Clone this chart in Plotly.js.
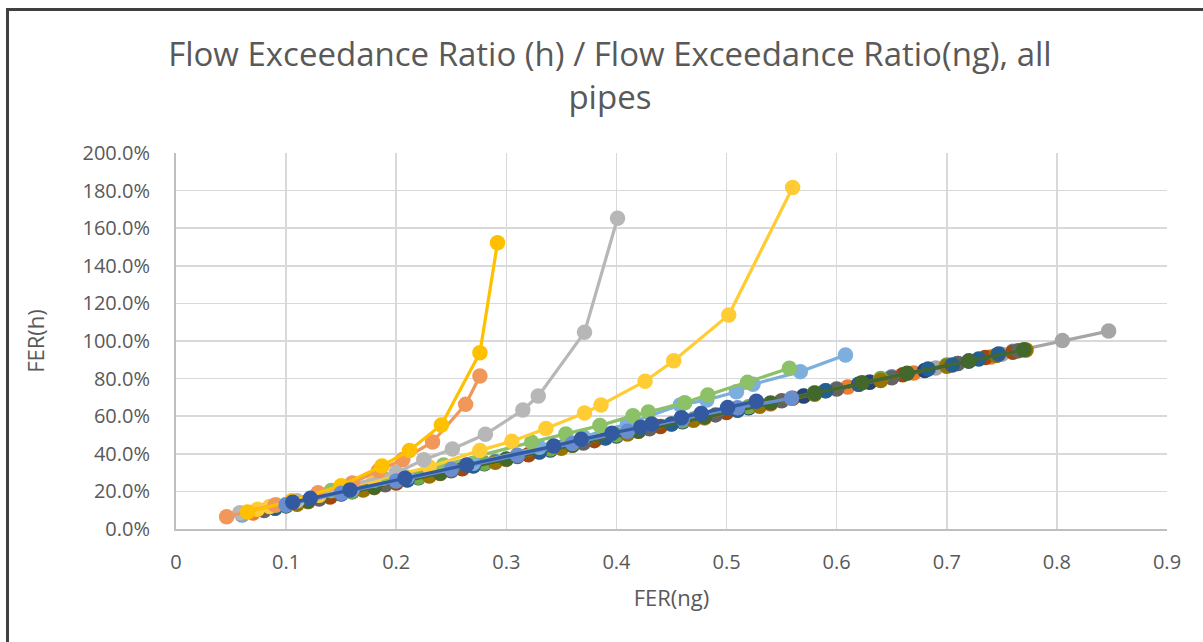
<!DOCTYPE html>
<html>
<head>
<meta charset="utf-8">
<script src="https://cdn.plot.ly/plotly-3.0.1.min.js"></script>
<style>
  html, body { margin: 0; padding: 0; background: #ffffff; overflow: hidden; }
  #chart { position: absolute; left: 0; top: 0; width: 1203px; height: 642px; }
  #frame { position: absolute; left: 6px; top: 8px; width: 1400px; height: 800px;
           border-left: 3px solid #404040; border-top: 3px solid #404040; pointer-events: none; z-index: 10; }
</style>
</head>
<body>
<div id="chart"></div>
<div id="frame"></div>
<script>
// ---- Data (x = FER(ng), y = FER(h) as a fraction) ----
// Dense bundle of pipes along the main trend
const blueAX   = [0.06, 0.11, 0.17, 0.23, 0.29, 0.35, 0.41, 0.47, 0.53, 0.59, 0.65, 0.71, 0.76];
const blueAY   = [0.075, 0.135, 0.21, 0.285, 0.36, 0.435, 0.51, 0.585, 0.66, 0.735, 0.81, 0.88, 0.945];
const orangeAX = [0.07, 0.12, 0.18, 0.24, 0.30, 0.36, 0.42, 0.48, 0.54, 0.61, 0.67, 0.74];
const orangeAY = [0.085, 0.145, 0.22, 0.295, 0.37, 0.445, 0.52, 0.59, 0.665, 0.755, 0.83, 0.915];
const grayLongX = [0.06, 0.10, 0.15, 0.21, 0.27, 0.33, 0.39, 0.45, 0.51, 0.57, 0.63, 0.69, 0.75, 0.805, 0.847];
const grayLongY = [0.078, 0.125, 0.188, 0.262, 0.337, 0.41, 0.485, 0.558, 0.633, 0.707, 0.782, 0.856, 0.93, 1.002, 1.053];
const rustX    = [0.09, 0.14, 0.20, 0.26, 0.32, 0.38, 0.44, 0.50, 0.56, 0.62, 0.66, 0.70, 0.735, 0.76];
const rustY    = [0.11, 0.17, 0.245, 0.32, 0.395, 0.47, 0.545, 0.62, 0.695, 0.77, 0.82, 0.87, 0.912, 0.94];
const darkGrayX = [0.08, 0.13, 0.19, 0.25, 0.31, 0.37, 0.43, 0.49, 0.55, 0.60, 0.65, 0.71, 0.765];
const darkGrayY = [0.098, 0.16, 0.235, 0.31, 0.385, 0.458, 0.533, 0.607, 0.682, 0.745, 0.805, 0.88, 0.948];
const navyX    = [0.10, 0.16, 0.22, 0.28, 0.34, 0.40, 0.46, 0.52, 0.57, 0.63, 0.68, 0.72];
const navyY    = [0.123, 0.198, 0.272, 0.347, 0.42, 0.495, 0.57, 0.645, 0.707, 0.78, 0.843, 0.893];
const greenAX  = [0.10, 0.16, 0.22, 0.28, 0.34, 0.40, 0.46, 0.52, 0.58, 0.64, 0.70];
const greenAY  = [0.127, 0.2, 0.275, 0.35, 0.425, 0.5, 0.575, 0.65, 0.725, 0.8, 0.872];
const oliveX   = [0.11, 0.17, 0.23, 0.29, 0.35, 0.41, 0.47, 0.53, 0.58, 0.64, 0.70, 0.745, 0.772];
const oliveY   = [0.132, 0.208, 0.282, 0.355, 0.43, 0.505, 0.578, 0.653, 0.717, 0.79, 0.866, 0.923, 0.952];
const steelX   = [0.09, 0.15, 0.21, 0.27, 0.33, 0.39, 0.45, 0.51, 0.59, 0.62, 0.683, 0.705, 0.729, 0.747];
const steelY   = [0.112, 0.186, 0.26, 0.335, 0.41, 0.484, 0.558, 0.632, 0.735, 0.77, 0.851, 0.872, 0.904, 0.931];
const forestX  = [0.12, 0.18, 0.24, 0.30, 0.36, 0.42, 0.48, 0.54, 0.58, 0.623, 0.664, 0.72, 0.77];
const forestY  = [0.148, 0.222, 0.297, 0.372, 0.446, 0.52, 0.595, 0.67, 0.722, 0.778, 0.828, 0.893, 0.953];
const midBlueX = [0.10, 0.15, 0.20, 0.25, 0.31, 0.36, 0.41, 0.46, 0.51, 0.559];
const midBlueY = [0.128, 0.19, 0.255, 0.318, 0.392, 0.455, 0.52, 0.585, 0.645, 0.695];
// Pipes that depart from the trend
const lightBlueX  = [0.10, 0.16, 0.21, 0.27, 0.33, 0.37, 0.41, 0.458, 0.482, 0.509, 0.524, 0.567, 0.608];
const lightBlueY  = [0.13, 0.21, 0.275, 0.35, 0.435, 0.49, 0.56, 0.66, 0.686, 0.73, 0.77, 0.837, 0.926];
const lightGreenX = [0.091, 0.141, 0.188, 0.243, 0.323, 0.354, 0.385, 0.415, 0.429, 0.462, 0.483, 0.519, 0.557];
const lightGreenY = [0.128, 0.205, 0.27, 0.34, 0.462, 0.505, 0.55, 0.603, 0.622, 0.672, 0.713, 0.78, 0.855];
const yellowX  = [0.074, 0.085, 0.13, 0.18, 0.23, 0.276, 0.305, 0.336, 0.371, 0.386, 0.426, 0.452, 0.502, 0.560];
const yellowY  = [0.105, 0.12, 0.18, 0.26, 0.33, 0.418, 0.467, 0.535, 0.617, 0.66, 0.786, 0.895, 1.138, 1.817];
const silverX  = [0.058, 0.11, 0.16, 0.20, 0.225, 0.251, 0.281, 0.315, 0.329, 0.371, 0.401];
const silverY  = [0.087, 0.15, 0.235, 0.3, 0.368, 0.425, 0.504, 0.633, 0.707, 1.046, 1.653];
const peachX   = [0.046, 0.09, 0.129, 0.160, 0.184, 0.206, 0.233, 0.263, 0.276];
const peachY   = [0.065, 0.128, 0.193, 0.245, 0.311, 0.37, 0.463, 0.663, 0.814];
const goldX    = [0.065, 0.105, 0.15, 0.187, 0.212, 0.241, 0.276, 0.292];
const goldY    = [0.09, 0.15, 0.23, 0.335, 0.418, 0.553, 0.938, 1.523];
const darkBlueX = [0.106, 0.122, 0.158, 0.208, 0.264, 0.343, 0.368, 0.396, 0.422, 0.432, 0.459, 0.477, 0.501, 0.527];
const darkBlueY = [0.142, 0.163, 0.207, 0.27, 0.34, 0.441, 0.477, 0.509, 0.541, 0.558, 0.592, 0.614, 0.646, 0.68];

const xTickVals = [0, 0.1, 0.2, 0.3, 0.4, 0.5, 0.6, 0.7, 0.8, 0.9];
const xTickText = ["0", "0.1", "0.2", "0.3", "0.4", "0.5", "0.6", "0.7", "0.8", "0.9"];
const yTickVals = [0, 0.2, 0.4, 0.6, 0.8, 1.0, 1.2, 1.4, 1.6, 1.8, 2.0];
const yTickText = ["0.0%", "20.0%", "40.0%", "60.0%", "80.0%", "100.0%", "120.0%", "140.0%", "160.0%", "180.0%", "200.0%"];

const seriesList = [
  [blueAX, blueAY, "#5B9BD5"],
  [orangeAX, orangeAY, "#ED7D31"],
  [grayLongX, grayLongY, "#A5A5A5"],
  [rustX, rustY, "#9E480E"],
  [darkGrayX, darkGrayY, "#636363"],
  [navyX, navyY, "#264478"],
  [greenAX, greenAY, "#70AD47"],
  [oliveX, oliveY, "#997300"],
  [steelX, steelY, "#255E91"],
  [forestX, forestY, "#43682B"],
  [lightBlueX, lightBlueY, "#7CAFDD"],
  [lightGreenX, lightGreenY, "#8CC168"],
  [yellowX, yellowY, "#FFCD33"],
  [silverX, silverY, "#B7B7B7"],
  [peachX, peachY, "#F1975A"],
  [goldX, goldY, "#FFC000"],
  [midBlueX, midBlueY, "#698ED0"],
  [darkBlueX, darkBlueY, "#335AA1"]
];

const traces = seriesList.map(s => ({
  x: s[0], y: s[1], type: "scatter", mode: "lines+markers",
  line: { color: s[2], width: 3.25 },
  marker: { color: s[2], size: 15.5 },
  hoverinfo: "skip", showlegend: false
}));

const txt = "#595959";
const layout = {
  width: 1203, height: 642,
  margin: { l: 176, r: 36, t: 153, b: 113 },
  paper_bgcolor: "rgba(0,0,0,0)", plot_bgcolor: "#ffffff",
  font: { family: "Open Sans, sans-serif", color: txt },
  title: {
    text: "Flow Exceedance Ratio (h) / Flow Exceedance Ratio(ng), all<br>pipes",
    font: { size: 33, color: txt, family: "Open Sans, sans-serif" },
    x: 0.507, xref: "container", xanchor: "center",
    y: 0.897, yref: "container", yanchor: "middle"
  },
  xaxis: {
    range: [0, 0.9], tickvals: xTickVals, ticktext: xTickText,
    showgrid: true, gridcolor: "#D9D9D9", gridwidth: 1.5,
    showline: true, linecolor: "#BFBFBF", linewidth: 2,
    zeroline: false, ticks: "outside", ticklen: 14, tickcolor: "rgba(0,0,0,0)",
    tickfont: { size: 20, color: txt },
    title: { text: "FER(ng)", font: { size: 22, color: txt }, standoff: 17 },
    automargin: false, fixedrange: true
  },
  yaxis: {
    range: [0, 2.0], tickvals: yTickVals, ticktext: yTickText,
    showgrid: true, gridcolor: "#D9D9D9", gridwidth: 1.5,
    showline: true, linecolor: "#BFBFBF", linewidth: 2,
    zeroline: false, ticks: "outside", ticklen: 20, tickcolor: "rgba(0,0,0,0)",
    tickfont: { size: 20, color: txt },
    title: { text: "FER(h)", font: { size: 22, color: txt }, standoff: 32 },
    automargin: false, fixedrange: true
  }
};

Plotly.newPlot("chart", traces, layout, { displayModeBar: false, staticPlot: true });
</script>
</body>
</html>
